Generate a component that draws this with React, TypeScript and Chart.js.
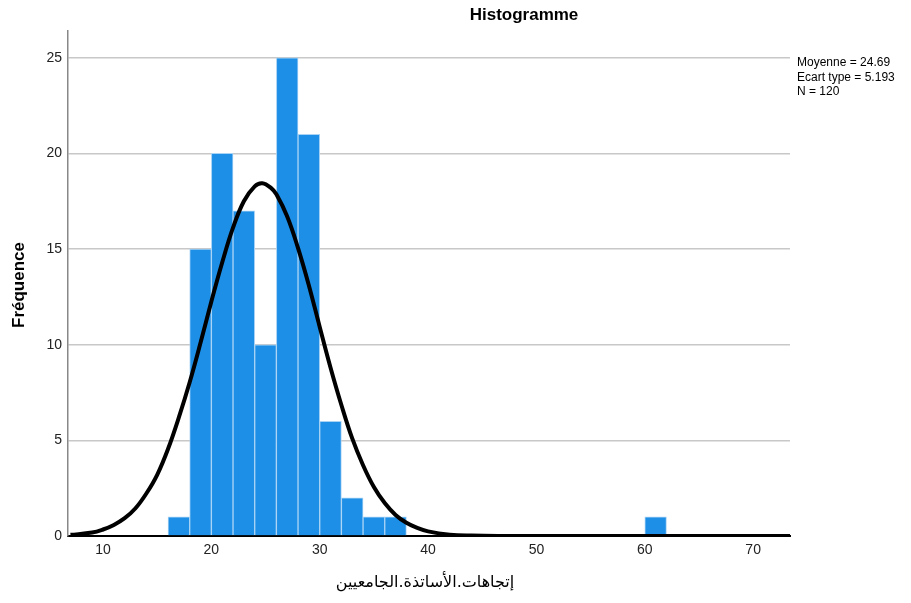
import React, { useEffect, useRef } from "react";
import { Chart, registerables } from "chart.js";

Chart.register(...registerables);

const binCenters = [17, 19, 21, 23, 25, 27, 29, 31, 33, 35, 37, 61];
const binCounts = [1, 15, 20, 17, 10, 25, 21, 6, 2, 1, 1, 1];

const curveX = [7, 9, 10, 11, 12, 13, 14, 15, 16, 17, 18, 19, 20, 21, 22, 23, 24, 24.7, 25.5, 26, 27, 28, 29, 30, 31, 32, 33, 34, 35, 36, 37, 38, 39, 40, 42, 44, 47, 50, 55, 60, 65, 70, 73.4];
const curveY = [0.06, 0.18, 0.34, 0.58, 0.93, 1.45, 2.22, 3.2, 4.55, 6.2, 8.04, 10.1, 12.26, 14.3, 16.12, 17.5, 18.28, 18.44, 18.2, 17.86, 16.7, 15.05, 13.1, 10.93, 8.8, 6.85, 5.1, 3.7, 2.56, 1.72, 1.1, 0.69, 0.42, 0.24, 0.07, 0.02, 0.0, 0.0, 0.0, 0.0, 0.0, 0.0, 0.0];

const xTicks = [10, 20, 30, 40, 50, 60, 70];
const yTicks = [0, 5, 10, 15, 20, 25];

const titleText = "Histogramme";
const statsLines = ["Moyenne = 24.69", "Ecart type = 5.193", "N = 120"];
const yTitle = "Fréquence";
const xTitle = "إتجاهات.الأساتذة.الجامعيين";

const textPlugin = {
  id: "texts",
  afterDraw(chart: any) {
    const ctx = chart.ctx;
    const area = chart.chartArea;
    ctx.save();
    ctx.fillStyle = "#000";
    ctx.font = "bold 17px 'Liberation Sans', Arial, sans-serif";
    ctx.textAlign = "center";
    ctx.textBaseline = "middle";
    ctx.fillText(titleText, 524, 15);

    ctx.font = "12px 'Liberation Sans', Arial, sans-serif";
    ctx.textAlign = "left";
    statsLines.forEach((s, i) => ctx.fillText(s, area.right + 7, 63 + i * 14.5));

    ctx.save();
    ctx.translate(19, 285);
    ctx.rotate(-Math.PI / 2);
    ctx.font = "bold 17px 'Liberation Sans', Arial, sans-serif";
    ctx.textAlign = "center";
    ctx.fillText(yTitle, 0, 0);
    ctx.restore();

    ctx.font = "16px 'DejaVu Sans', 'Noto Sans', sans-serif";
    ctx.textAlign = "center";
    ctx.direction = "rtl";
    ctx.fillText(xTitle, 425, 583);
    ctx.restore();
  },
};

export default function App() {
  const ref = useRef<HTMLCanvasElement | null>(null);
  useEffect(() => {
    document.body.style.margin = "0";
    const c = ref.current!;
    const chart = new Chart(c, {
      data: {
        datasets: [
          {
            type: "line",
            data: curveX.map((x, i) => ({ x, y: curveY[i] })),
            borderColor: "#000",
            borderWidth: 4,
            pointRadius: 0,
            tension: 0.4,
            fill: false,
            order: 0,
          } as any,
          {
            type: "bar",
            data: binCenters.map((x, i) => ({ x, y: binCounts[i] })),
            backgroundColor: "#1E8FE6",
            borderColor: "#A9D3F5",
            borderWidth: 1,
            barPercentage: 1,
            categoryPercentage: 1,
            order: 1,
          } as any,
        ],
      },
      options: {
        animation: false,
        responsive: false,
        layout: { padding: { left: 0, right: 121, top: 31, bottom: 0 } },
        plugins: { legend: { display: false }, tooltip: { enabled: false } },
        scales: {
          x: {
            type: "linear",
            offset: false,
            min: 6.77,
            max: 73.4,
            afterBuildTicks: (s: any) => {
              s.ticks = xTicks.map((v) => ({ value: v }));
            },
            afterFit: (s: any) => {
              s.height = 67;
            },
            grid: { display: false, drawTicks: false, offset: false },
            border: { color: "#000", width: 2 },
            ticks: {
              color: "#222",
              font: { size: 14, family: "'Liberation Sans', Arial, sans-serif" },
              padding: 6,
              autoSkip: false,
              maxRotation: 0,
            },
          },
          y: {
            type: "linear",
            min: 0,
            max: 26.4,
            afterBuildTicks: (s: any) => {
              s.ticks = yTicks.map((v) => ({ value: v }));
            },
            afterFit: (s: any) => {
              s.width = 68;
            },
            grid: { color: "#C8C8C8", lineWidth: 1.5, drawTicks: false },
            border: { color: "#888", width: 1.5 },
            ticks: {
              color: "#222",
              font: { size: 14, family: "'Liberation Sans', Arial, sans-serif" },
              padding: 6,
            },
          },
        },
      },
      plugins: [textPlugin],
    } as any);
    return () => chart.destroy();
  }, []);
  return (
    <div style={{ width: 911, height: 603 }}>
      <canvas ref={ref} width={911} height={603} style={{ display: "block" }} />
    </div>
  );
}
